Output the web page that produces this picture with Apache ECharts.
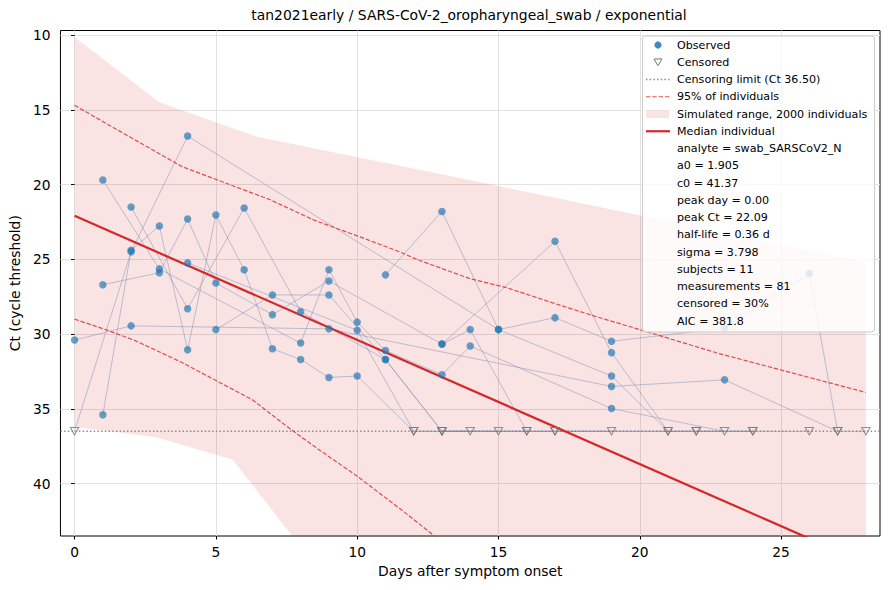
<!DOCTYPE html>
<html>
<head>
<meta charset="utf-8">
<title>tan2021early / SARS-CoV-2_oropharyngeal_swab / exponential</title>
<script src="https://cdn.jsdelivr.net/npm/echarts@6/dist/echarts.min.js"></script>
<style>
  html, body { margin: 0; padding: 0; background: #fff; }
  #chart { width: 890px; height: 590px; }
</style>
</head>
<body>
<div id="chart"></div>
<script>
// Ct values per subject, [day, ct]; null means censored (drawn at the limit)
const censorLimit = 36.5;

const subjectA = [[0, null], [2, 24.5], [4, 16.76], [15, 29.7], [19, 32.8], [21, null], [22, null], [24, null]];
const subjectB = [[1, 35.4], [2, 24.4], [3, 22.77], [4, 31.05], [5, 22.04], [6, 25.7], [7, 30.98], [8, 31.7], [9, 32.9], [10, 32.8], [12, null], [14, null]];
const subjectC = [[0, 30.4], [2, 29.45], [9, 29.65], [19, 33.5], [23, 33.06], [27, null], [28, null]];
const subjectD = [[1, 19.7], [3, 25.64], [8, 30.6], [9, 25.7], [10, 29.2], [11, 31.1], [13, 32.72], [14, 30.8], [19, 34.98], [23, null]];
const subjectE = [[1, 26.7], [3, 25.9], [4, 22.3], [5, 26.58], [7, 28.7], [9, 26.45], [13, 30.67], [17, 23.8], [19, 31.24], [21, null]];
const subjectF = [[2, 21.5], [4, 28.3], [6, 21.57], [8, 28.5], [11, 31.7], [13, null], [16, null]];
const subjectG = [[5, 29.7], [7, 27.38], [9, 27.38], [11, 31.7], [13, null], [15, null]];
const subjectH = [[11, 26.04], [13, 21.8], [15, 29.7], [17, 28.9], [19, 30.48], [23, 29.6], [26, 25.95], [27, null]];
const subjectI = [[4, 25.24], [10, 29.75], [12, null], [17, null], [19, null]];
const subjectJ = [[13, 30.67], [14, 29.7], [16, null], [22, null], [24, null]];
const subjectK = [[13, null], [17, null], [26, null]];
const subjects = [subjectA, subjectB, subjectC, subjectD, subjectE, subjectF,
                  subjectG, subjectH, subjectI, subjectJ, subjectK];

// simulated range (min/max over 2000 individuals)
const bandUpper = [[0, 10.15], [3.0, 14.5], [6.45, 16.8], [14.5, 19.9], [20.1, 22.1], [28, 25.2]];
const bandLower = [[0, 36.2], [2.9, 36.9], [5.6, 38.4], [7.7, 43.5], [9, 46.8], [28, 90]];

// 95% of individuals
const p95Upper = [[0, 14.7], [1.1, 15.9], [2.5, 17.4], [3.8, 18.8], [5.2, 19.8], [6.9, 21.0],
                  [8.5, 22.4], [10.1, 23.5], [11.5, 24.5], [12.1, 25.0], [14, 26.3], [15.3, 26.9],
                  [16.9, 27.9], [18.4, 28.8], [20, 29.7], [22.8, 31.3], [25, 32.4], [28, 33.9]];
const p95Lower = [[0, 29.0], [1.1, 29.7], [2.1, 30.4], [2.9, 31.1], [3.8, 31.9], [4.9, 33.0],
                  [5.7, 33.8], [6.3, 34.4], [7.6, 36.3], [8.7, 37.8], [10, 39.5], [11.6, 41.8],
                  [12.8, 43.6], [14, 45.6]];

const medianLine = [[0, 22.09], [28, 45.33]];

const xRange = [-0.5, 28.5];
const yRange = [9.7, 43.5];
const xTicks = [0, 5, 10, 15, 20, 25];
const yTicks = [10, 15, 20, 25, 30, 35, 40];

const seriesNames = ['Observed', 'Censored', 'Censoring limit (Ct 36.50)', '95% of individuals',
                     'Simulated range, 2000 individuals', 'Median individual'];
const statLines = ['analyte = swab_SARSCoV2_N', 'a0 = 1.905', 'c0 = 41.37', 'peak day = 0.00',
                   'peak Ct = 22.09', 'half-life = 0.36 d', 'sigma = 3.798', 'subjects = 11',
                   'measurements = 81', 'censored = 30%', 'AIC = 381.8'];

const FONT = 'DejaVu Sans';
const RED = '#d62728';
const BAND = 'rgba(214,39,40,0.13)';
const DOT = 'rgba(31,119,180,0.85)';

const observed = [];
const censored = [];
subjects.forEach(s => s.forEach(p => {
  if (p[1] == null) censored.push([p[0], censorLimit]);
  else observed.push(p);
}));

const subjectSeries = subjects.map((s, i) => ({
  name: 'subject ' + (i + 1),
  type: 'line',
  data: s.map(p => [p[0], p[1] == null ? censorLimit : p[1]]),
  symbol: 'none',
  lineStyle: { color: 'rgba(110,135,180,0.45)', width: 1 },
  z: 3,
  silent: true
}));

// hand-built legend, matplotlib style
const ROW0 = 45, ROWH = 17.25, ICON_L = 646, ICON_R = 670, TEXT_X = 677;
const rowY = i => ROW0 + i * ROWH;
const legendGraphics = [
  {
    type: 'rect', z: 20,
    shape: { x: 642.5, y: 36, width: 232, height: 296, r: 3 },
    style: { fill: 'rgba(255,255,255,0.8)', stroke: '#cccccc', lineWidth: 1 }
  },
  { type: 'circle', z: 21, shape: { cx: 658, cy: rowY(0), r: 3.6 }, style: { fill: DOT } },
  {
    type: 'polygon', z: 21,
    shape: { points: [[654, rowY(1) - 3.3], [662, rowY(1) - 3.3], [658, rowY(1) + 3.5]] },
    style: { fill: 'none', stroke: '#777', lineWidth: 1 }
  },
  {
    type: 'line', z: 21, shape: { x1: ICON_L, y1: rowY(2), x2: ICON_R, y2: rowY(2) },
    style: { stroke: '#888', lineWidth: 1.4, lineDash: [1.4, 2.3] }
  },
  {
    type: 'line', z: 21, shape: { x1: ICON_L, y1: rowY(3), x2: ICON_R, y2: rowY(3) },
    style: { stroke: 'rgba(214,39,40,0.8)', lineWidth: 1.2, lineDash: [4.4, 1.9] }
  },
  { type: 'rect', z: 21, shape: { x: ICON_L, y: rowY(4) - 4, width: 23, height: 8 }, style: { fill: BAND } },
  {
    type: 'line', z: 21, shape: { x1: ICON_L, y1: rowY(5), x2: ICON_R, y2: rowY(5) },
    style: { stroke: RED, lineWidth: 2.2 }
  }
];
seriesNames.concat(statLines).forEach((t, i) => {
  legendGraphics.push({
    type: 'text', z: 21, x: TEXT_X, y: rowY(i),
    style: { text: t, fill: '#000', font: '11.1px "' + FONT + '"', textVerticalAlign: 'middle', verticalAlign: 'middle' }
  });
});

const chart = echarts.init(document.getElementById('chart'), null, { renderer: 'svg' });

const option = {
  animation: false,
  backgroundColor: '#fff',
  textStyle: { fontFamily: FONT },
  title: {
    text: 'tan2021early / SARS-CoV-2_oropharyngeal_swab / exponential',
    left: 469,
    top: 8,
    textAlign: 'center',
    padding: 0,
    textStyle: { fontFamily: FONT, fontSize: 13.9, fontWeight: 'normal', color: '#000' }
  },
  grid: {
    left: 58.5, right: 10, top: 30.5, bottom: 54,
    show: true, borderColor: '#000', borderWidth: 1, backgroundColor: 'transparent'
  },
  xAxis: {
    type: 'value',
    min: xRange[0], max: xRange[1], splitNumber: 6,
    name: 'Days after symptom onset',
    nameLocation: 'middle', nameGap: 28,
    nameTextStyle: { fontFamily: FONT, fontSize: 13.9, color: '#000' },
    axisLine: { show: false },
    axisTick: { show: true, length: 3.5, customValues: xTicks, lineStyle: { color: '#000' } },
    axisLabel: { customValues: xTicks, margin: 9, fontFamily: FONT, fontSize: 13.8, color: '#000' },
    splitLine: { show: true, lineStyle: { color: '#e2e2e2', width: 1 } }
  },
  yAxis: {
    type: 'value',
    inverse: true,
    min: yRange[0], max: yRange[1], splitNumber: 7,
    name: 'Ct (cycle threshold)',
    nameLocation: 'middle', nameGap: 33,
    nameTextStyle: { fontFamily: FONT, fontSize: 13.9, color: '#000' },
    axisLine: { show: false },
    axisTick: { show: true, length: 3.5, customValues: yTicks, lineStyle: { color: '#000' } },
    axisLabel: { customValues: yTicks, margin: 10, fontFamily: FONT, fontSize: 13.8, color: '#000' },
    splitLine: { show: true, lineStyle: { color: '#e2e2e2', width: 1 } }
  },
  graphic: legendGraphics,
  series: [
    {
      name: seriesNames[4],
      type: 'custom',
      z: 1,
      silent: true,
      clip: true,
      data: [bandUpper[0]],
      renderItem: function (params, api) {
        const pts = bandUpper.map(p => api.coord(p))
          .concat(bandLower.slice().reverse().map(p => api.coord(p)));
        const cs = params.coordSys;
        return {
          type: 'polygon',
          shape: { points: pts },
          style: { fill: BAND },
          clipPath: { type: 'rect', shape: { x: cs.x, y: cs.y, width: cs.width, height: cs.height } }
        };
      }
    },
    {
      name: seriesNames[2],
      type: 'line',
      z: 2,
      silent: true,
      data: [[xRange[0], censorLimit], [xRange[1], censorLimit]],
      symbol: 'none',
      lineStyle: { color: '#888', width: 1.4, type: [1.4, 2.3] }
    },
    ...subjectSeries,
    {
      name: seriesNames[3],
      type: 'line',
      z: 4,
      silent: true,
      data: p95Upper,
      symbol: 'none',
      lineStyle: { color: 'rgba(214,39,40,0.8)', width: 1.2, type: [4.4, 1.9] }
    },
    {
      name: seriesNames[3] + ' (lower)',
      type: 'line',
      z: 4,
      silent: true,
      data: p95Lower,
      symbol: 'none',
      lineStyle: { color: 'rgba(214,39,40,0.8)', width: 1.2, type: [4.4, 1.9] }
    },
    {
      name: seriesNames[5],
      type: 'line',
      z: 5,
      silent: true,
      data: medianLine,
      symbol: 'none',
      lineStyle: { color: RED, width: 2.2 }
    },
    {
      name: seriesNames[0],
      type: 'scatter',
      z: 6,
      data: observed,
      symbol: 'circle',
      symbolSize: 7.5,
      itemStyle: { color: DOT }
    },
    {
      name: seriesNames[1],
      type: 'scatter',
      z: 6,
      data: censored,
      symbol: 'triangle',
      symbolRotate: 180,
      symbolSize: [8.5, 7.5],
      itemStyle: { color: 'rgba(0,0,0,0)', borderColor: '#777', borderWidth: 1 }
    }
  ]
};

chart.setOption(option);
window.addEventListener('resize', () => chart.resize());
</script>
</body>
</html>
